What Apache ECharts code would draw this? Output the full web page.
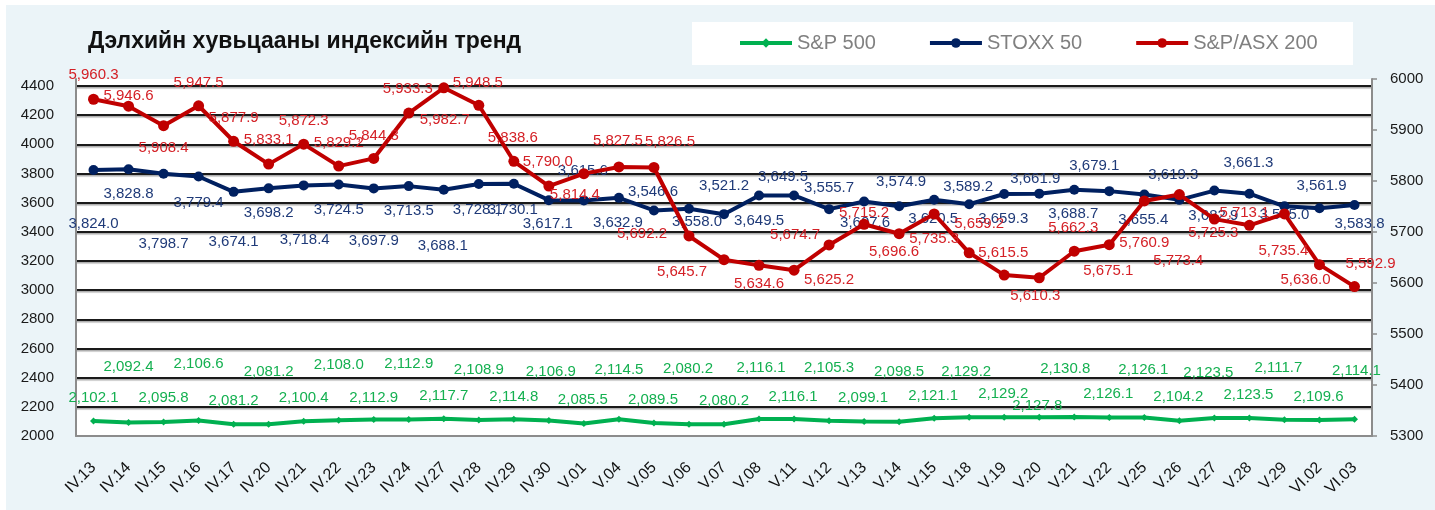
<!DOCTYPE html>
<html><head><meta charset="utf-8">
<script src="https://cdn.jsdelivr.net/npm/echarts@6/dist/echarts.min.js"></script>
<style>html,body{margin:0;padding:0;background:#EBF4F8}#c{width:1435px;height:510px}</style>
</head><body><div id="c"></div>
<script>
const titleText = 'Дэлхийн хувьцааны индексийн тренд';
const categories = ['IV.13','IV.14','IV.15','IV.16','IV.17','IV.20','IV.21','IV.22','IV.23','IV.24','IV.27','IV.28','IV.29','IV.30','V.01','V.04','V.05','V.06','V.07','V.08','V.11','V.12','V.13','V.14','V.15','V.18','V.19','V.20','V.21','V.22','V.25','V.26','V.27','V.28','V.29','VI.02','VI.03'];
const sp500 = [2102.1,2092.4,2095.8,2106.6,2081.2,2081.2,2100.4,2108.0,2112.9,2112.9,2117.7,2108.9,2114.8,2106.9,2085.5,2114.5,2089.5,2080.2,2080.2,2116.1,2116.1,2105.3,2099.1,2098.5,2121.1,2129.2,2129.2,2127.8,2130.8,2126.1,2126.1,2104.2,2123.5,2123.5,2111.7,2109.6,2114.1];
const stoxx50 = [3824.0,3828.8,3798.7,3779.4,3674.1,3698.2,3718.4,3724.5,3697.9,3713.5,3688.1,3728.1,3730.1,3617.1,3615.6,3632.9,3546.6,3558.0,3521.2,3649.5,3649.5,3555.7,3607.6,3574.9,3620.5,3589.2,3659.3,3661.9,3688.7,3679.1,3655.4,3619.3,3682.9,3661.3,3575.0,3561.9,3583.8];
const asx200 = [5960.3,5946.6,5908.4,5947.5,5877.9,5833.1,5872.3,5829.2,5844.3,5933.3,5982.7,5948.5,5838.6,5790.0,5814.4,5827.5,5826.5,5692.2,5645.7,5634.6,5625.2,5674.7,5715.2,5696.6,5735.3,5659.2,5615.5,5610.3,5662.3,5675.1,5760.9,5773.4,5725.3,5713.1,5735.4,5636.0,5592.9];
const seriesNames = ['S&P 500','STOXX 50','S&P/ASX 200'];
const leftAxis = {min:2000, max:4448, step:200};
const rightAxis = {min:5300, max:6000, step:100};

// label placement (relative offsets from each point, px) - layout only
const spOff = [[0,-23],[0,-56],[0,-24],[0,-57],[0,-23],[0,-52],[0,-23],[0,-55],[0,-22],[0,-56],[0,-23],[0,-50],[0,-22],[2,-49],[-1,-24],[0,-49],[-1,-23],[-1,-55],[0,-23],[2,-51],[-1,-22],[0,-53],[-1,-24],[0,-50],[-1,-22],[-3,-45],[-1,-23],[-2,-12],[-9,-48],[-1,-24],[-1,-48],[-1,-24],[-6,-45],[-1,-23],[-6,-52],[-1,-23],[2,-49]];
const stOff = [[0,54],[0,25],[0,70],[0,26],[0,50],[0,25],[1,54],[0,25],[0,52],[0,25],[-1,56],[-1,26],[-1,26],[-1,24],[-1,-30],[-1,25],[-1,-19],[8,13],[0,-28],[0,25],[-11,-19],[0,-21],[1,21],[2,-24],[-1,19],[-1,-17],[-1,25],[-4,-15],[-1,24],[-15,-25],[-1,25],[-6,-25],[-1,25],[-1,-31],[0,9],[2,-22],[5,19]];
const asOff = [[0,-24],[0,-10],[0,22],[0,-23],[0,-23],[0,-24],[0,-23],[0,-23],[0,-23],[-1,-24],[1,32],[-1,-22],[-1,-23],[-1,-24],[-9,21],[-1,-26],[16,-26],[-47,-2],[-42,12],[0,19],[35,10],[-34,-10],[0,-11],[-5,18],[0,25],[10,-29],[-1,-22],[-4,18],[-1,-23],[-1,26],[0,42],[-1,66],[-1,14],[-5,-12],[-1,37],[-14,15],[16,-23]];

const FONT = "'Liberation Sans', Arial, sans-serif";
function fmt(v){const s=v.toFixed(1).split('.');return s[0].replace(/\B(?=(\d{3})+(?!\d))/g,',')+'.'+s[1];}
function items(arr, off){return arr.map((v,i)=>({value:v,label:{offset:off[i]}}));}

const chart = echarts.init(document.getElementById('c'), null, {renderer:'canvas'});
const gridColors = [];
for (let v = leftAxis.min; v <= leftAxis.max + 0.001; v += leftAxis.step) gridColors.push(v === leftAxis.min ? 'transparent' : '#1a1a1a');
gridColors.push('transparent');

chart.setOption({
  animation:false,
  backgroundColor:'#EBF4F8',
  textStyle:{fontFamily:FONT},
  graphic:[
    {type:'rect', z:-10, left:0, top:0, shape:{width:1435,height:5}, style:{fill:'#ffffff'}},
    {type:'rect', z:-10, left:0, top:0, shape:{width:6,height:510}, style:{fill:'#ffffff'}},
    {type:'rect', z:-9, left:692, top:22, shape:{width:661,height:43}, style:{fill:'#ffffff'}}
  ],
  title:{text:titleText, left:88, top:30, padding:0, textStyle:{fontSize:23, fontWeight:'bold', color:'#111', fontFamily:FONT}},
  legend:{left:738, top:33, itemWidth:52, itemHeight:12, itemGap:52, padding:0,
    lineStyle:{width:4},
    textStyle:{fontSize:20, color:'#808080', fontFamily:FONT},
    data:seriesNames},
  grid:{left:76, right:63, top:79, bottom:74, show:true, backgroundColor:'#ffffff', borderWidth:0, containLabel:false, outerBoundsMode:'none'},
  xAxis:{type:'category', data:categories, boundaryGap:true,
    axisLine:{show:true, lineStyle:{color:'#8c8c8c', width:2}},
    axisTick:{show:false},
    axisLabel:{rotate:45, fontSize:16, color:'#111', margin:29, interval:0, fontFamily:FONT},
    splitLine:{show:false}},
  yAxis:[
    {type:'value', min:leftAxis.min, max:leftAxis.max, interval:leftAxis.step, position:'left',
      axisLine:{show:true, lineStyle:{color:'#8c8c8c', width:2}},
      axisTick:{show:false},
      axisLabel:{fontSize:15, color:'#1a1a1a', margin:22, fontFamily:FONT, formatter:v=> (v % leftAxis.step === 0 ? String(v) : '')},
      splitLine:{show:true, lineStyle:{color:gridColors, width:2, shadowColor:'rgba(0,0,0,0.35)', shadowOffsetY:1.5, shadowBlur:1}}},
    {type:'value', min:rightAxis.min, max:rightAxis.max, interval:rightAxis.step, position:'right',
      axisLine:{show:true, lineStyle:{color:'#8c8c8c', width:2}},
      axisTick:{show:true, length:5, lineStyle:{color:'#8c8c8c', width:1.5}},
      axisLabel:{fontSize:15, color:'#1a1a1a', margin:18, fontFamily:FONT, formatter:v=>String(v)},
      splitLine:{show:false}}
  ],
  series:[
    {name:seriesNames[0], type:'line', yAxisIndex:0, data:items(sp500, spOff),
      symbol:'diamond', symbolSize:7, lineStyle:{color:'#00B050', width:4}, itemStyle:{color:'#00B050'},
      label:{show:true, position:'inside', formatter:p=>fmt(p.value), fontSize:15, color:'#14B050', fontFamily:FONT}, z:2},
    {name:seriesNames[1], type:'line', yAxisIndex:0, data:items(stoxx50, stOff),
      symbol:'circle', symbolSize:10, lineStyle:{color:'#002060', width:4}, itemStyle:{color:'#002060'},
      label:{show:true, position:'inside', formatter:p=>fmt(p.value), fontSize:15, color:'#1F3A78', fontFamily:FONT}, z:3},
    {name:seriesNames[2], type:'line', yAxisIndex:1, data:items(asx200, asOff),
      symbol:'circle', symbolSize:11, lineStyle:{color:'#C00000', width:4}, itemStyle:{color:'#C00000'},
      label:{show:true, position:'inside', formatter:p=>fmt(p.value), fontSize:15, color:'#D42026', fontFamily:FONT}, z:4}
  ]
});
</script></body></html>
